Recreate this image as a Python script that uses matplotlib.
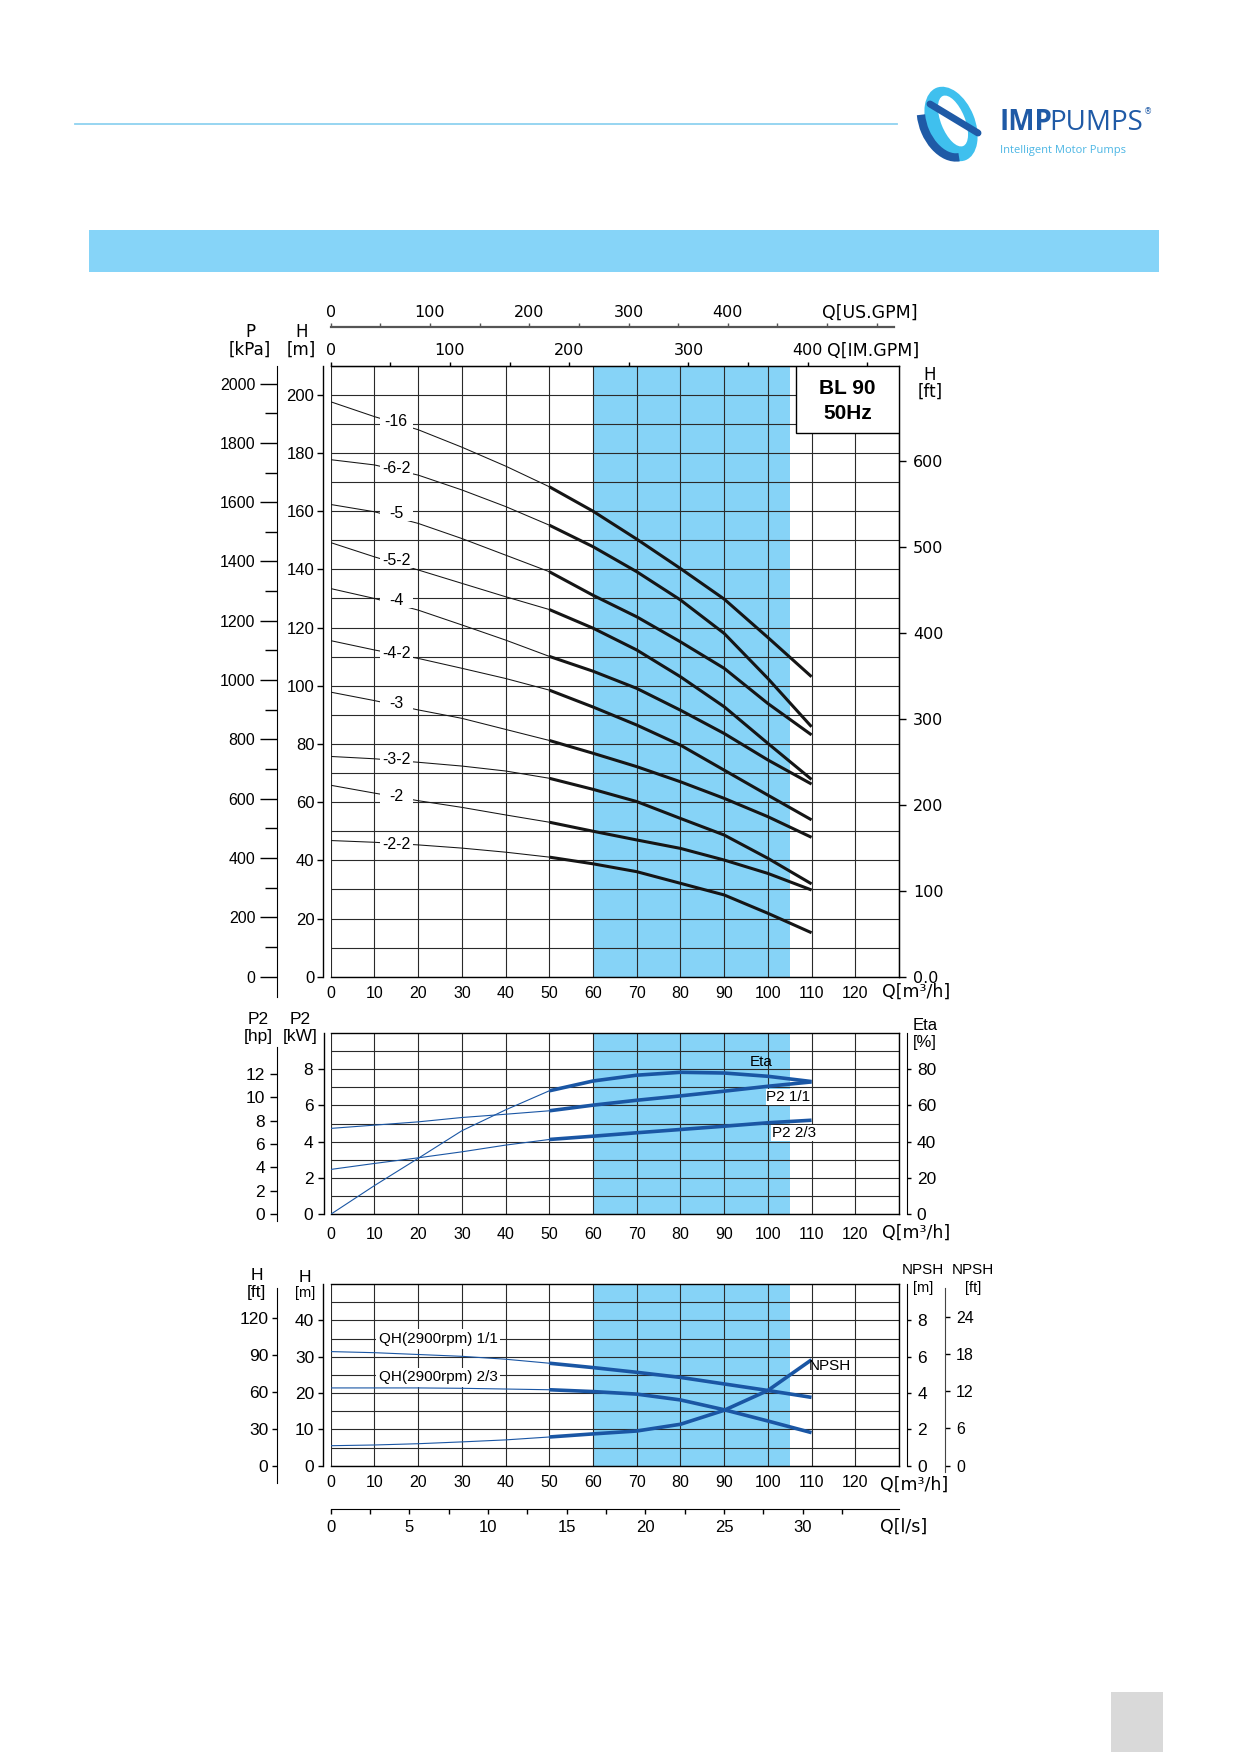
import matplotlib
matplotlib.use('Agg')
import matplotlib.pyplot as plt
from matplotlib.patches import Rectangle, Ellipse, Arc
from matplotlib.ticker import FuncFormatter

# ---------------- data ----------------
q_pts = [0, 10, 20, 30, 40, 50, 60, 70, 80, 90, 100, 110]
q_split = 5  # index where thin part ends / thick part starts (Q=50)

curve_names = ['-16', '-6-2', '-5', '-5-2', '-4', '-4-2', '-3', '-3-2', '-2', '-2-2']
h_16 = [197.6, 192.5, 188.0, 182.0, 175.5, 168.4, 160.0, 150.4, 140.3, 129.8, 116.6, 103.1]
h_6_2 = [177.7, 175.9, 172.4, 167.3, 161.6, 155.2, 147.8, 139.2, 129.5, 118.0, 102.5, 85.9]
h_5 = [162.3, 159.8, 155.8, 150.6, 144.9, 139.2, 131.1, 123.7, 115.1, 106.0, 93.9, 83.1]
h_5_2 = [149.2, 144.3, 139.8, 135.2, 130.6, 126.2, 119.8, 112.3, 103.1, 92.8, 80.2, 67.8]
h_4 = [133.4, 130.0, 126.0, 120.9, 115.7, 110.1, 105.0, 99.1, 91.6, 83.6, 74.5, 66.2]
h_4_2 = [115.5, 112.3, 109.4, 106.0, 102.5, 98.5, 92.7, 86.5, 79.6, 71.0, 62.4, 53.9]
h_3 = [97.8, 94.9, 91.7, 88.8, 85.0, 81.2, 76.8, 72.2, 67.0, 61.3, 55.0, 47.9]
h_3_2 = [75.7, 74.9, 73.7, 72.4, 70.7, 68.2, 64.4, 60.2, 54.4, 48.7, 40.7, 31.9]
h_2 = [65.8, 63.1, 60.5, 58.2, 55.6, 53.1, 50.0, 47.0, 44.1, 40.1, 35.5, 29.8]
h_2_2 = [46.8, 46.2, 45.3, 44.2, 42.8, 41.1, 38.8, 36.1, 32.1, 28.1, 21.8, 15.1]
head_curves = [h_16, h_6_2, h_5, h_5_2, h_4, h_4_2, h_3, h_3_2, h_2, h_2_2]
label_q = 15
label_h = [190.7, 174.7, 159.1, 143.2, 129.2, 111.1, 94.0, 74.5, 61.9, 45.6]

eta_pct = [0, 15.8, 30.8, 46.0, 57.5, 68.0, 73.4, 76.6, 78.2, 77.8, 76.0, 73.1]
p2_full = [4.73, 4.91, 5.09, 5.33, 5.51, 5.70, 6.01, 6.28, 6.52, 6.78, 7.05, 7.29]
p2_23 = [2.47, 2.80, 3.11, 3.44, 3.81, 4.12, 4.30, 4.49, 4.67, 4.85, 5.04, 5.18]

qh_full = [31.4, 31.1, 30.6, 30.1, 29.3, 28.2, 27.0, 25.7, 24.3, 22.5, 20.7, 18.8]
qh_23 = [21.4, 21.4, 21.4, 21.3, 21.1, 20.9, 20.4, 19.7, 18.1, 15.4, 12.3, 9.1]
npsh_m = [1.10, 1.14, 1.21, 1.31, 1.42, 1.58, 1.75, 1.91, 2.28, 3.05, 4.14, 5.83]

band = (60, 105)
q_ticks = list(range(0, 131, 10))
us_major = [0, 100, 200, 300, 400]
us_minor = [50, 150, 250, 350, 450, 500, 550]
im_major = [0, 100, 200, 300, 400]
im_minor = [50, 150, 250, 350, 450]
ls_major = [0, 5, 10, 15, 20, 25, 30]
ls_minor = [2.5, 7.5, 12.5, 17.5, 22.5, 27.5, 32.5]

# ---------------- styling ----------------
W, H = 1239, 1752
ARIAL = 'Liberation Sans'
VERD = 'DejaVu Sans'
BAND = '#86d3f7'
BLUE = '#1a56a4'
GRID = '#2a2a2a'
LOGO_DARK = '#1f5aa6'

fig = plt.figure(figsize=(W / 100, H / 100), dpi=100)


def fx(x):
    return x / W


def fy(y):
    return 1 - y / H


def T(x, y, s, **kw):
    ha = kw.pop('ha', 'center')
    va = kw.pop('va', 'center')
    return fig.text(fx(x), fy(y), s, ha=ha, va=va, **kw)


def axes_px(l, r, t, b):
    return fig.add_axes([fx(l), fy(b), (r - l) / W, (b - t) / H])


# ---------------- background / header ----------------
bg = fig.add_axes([0, 0, 1, 1], zorder=-5)
bg.set_xlim(0, W)
bg.set_ylim(H, 0)
bg.axis('off')
bg.plot([75, 897], [124, 124], color='#8fd2f0', lw=1.3)
bg.add_patch(Rectangle((89, 230), 1070, 42, color='#86d4f8', lw=0))
bg.add_patch(Rectangle((1111, 1692), 52, 60, color='#d9d9d9', lw=0))
# logo emblem
bg.add_patch(Ellipse((951, 124), 48, 78, angle=-22, color='#3fc0ee', lw=0))
bg.add_patch(Ellipse((953, 121), 24, 54, angle=-22, color='white', lw=0))
bg.add_patch(Arc((948, 121), 50, 76, angle=-22, theta1=95, theta2=215,
                 color=LOGO_DARK, lw=6))
bg.plot([930, 978], [104, 133], color=LOGO_DARK, lw=5, solid_capstyle='round')
bg.add_patch(Ellipse((948, 124), 8, 16, angle=-30, color='white', lw=0))

renderer = fig.canvas.get_renderer()
t_imp = T(1000, 130, 'IMP', ha='left', va='baseline', fontsize=20, fontweight='bold',
          color=LOGO_DARK, family='Open Sans')
bb = t_imp.get_window_extent(renderer)
x_pumps = bb.x1 - 4
t_p = fig.text(x_pumps / W, fy(130), 'PUMPS', ha='left', va='baseline', fontsize=20,
               color=LOGO_DARK, family='Open Sans')
bb2 = t_p.get_window_extent(renderer)
fig.text((bb2.x1 + 1) / W, fy(112), '®', ha='left', va='center', fontsize=6,
         color=LOGO_DARK, family=VERD)
T(1000, 150, 'Intelligent Motor Pumps', ha='left', fontsize=8, color='#4cb6e4',
  family='Open Sans')


def base_axes(ax, ymax, ymaj, ymin):
    ax.set_xlim(0, 130)
    ax.set_ylim(0, ymax)
    ax.axvspan(band[0], band[1], color=BAND, lw=0)
    ax.set_axisbelow('line')
    ax.set_xticks(q_ticks)
    ax.set_yticks(ymaj)
    ax.set_yticks(ymin, minor=True)
    ax.grid(True, which='both', color=GRID, lw=0.8)
    ax.xaxis.set_major_formatter(FuncFormatter(lambda v, p: '' if v > 125 else f'{v:.0f}'))
    ax.tick_params(axis='x', length=0, labelsize=11.5, labelfontfamily=ARIAL)
    ax.tick_params(axis='y', which='minor', length=0)
    ax.tick_params(axis='y', which='major', length=4.5, width=1, pad=1.8,
                   labelsize=12, labelfontfamily=ARIAL)
    for s in ax.spines.values():
        s.set_linewidth(1)
        s.set_color('black')


def two_part(ax, ys, color, lw_thin, lw_thick):
    ax.plot(q_pts[:q_split + 1], ys[:q_split + 1], color=color, lw=lw_thin, zorder=3)
    ax.plot(q_pts[q_split:], ys[q_split:], color=color, lw=lw_thick, zorder=3,
            solid_capstyle='butt', solid_joinstyle='round')


# ---------------- main chart ----------------
ax = axes_px(330.7, 899, 365.7, 976.7)
base_axes(ax, 210, list(range(0, 201, 20)), list(range(10, 211, 20)))
ax.tick_params(axis='x', pad=6.5)
ax.spines['left'].set_position(('outward', 5.5))
for name, ys, ly in zip(curve_names, head_curves, label_h):
    two_part(ax, ys, '#151515', 0.75, 2.2)
    ax.add_patch(Rectangle((label_q - 3.8, ly - 2.6), 7.6, 5.2, color='white', lw=0, zorder=4))
    ax.text(label_q, ly, name, ha='center', va='center', fontsize=11.5, family=ARIAL, zorder=5)

ax.add_patch(Rectangle((0.818, 0.89), 0.182, 0.11, transform=ax.transAxes, fc='white',
                       ec='black', lw=1, zorder=4))
ax.text(0.909, 0.963, 'BL 90', transform=ax.transAxes, ha='center', va='center',
        fontsize=15, fontweight='bold', family=ARIAL, zorder=5)
ax.text(0.909, 0.921, '50Hz', transform=ax.transAxes, ha='center', va='center',
        fontsize=15, fontweight='bold', family=ARIAL, zorder=5)

secP = ax.secondary_yaxis(-0.0945, functions=(lambda h: h * 9.81, lambda p: p / 9.81))
secP.set_yticks(list(range(0, 2001, 200)))
secP.set_yticks(list(range(100, 2000, 200)), minor=True)
secP.tick_params(which='major', length=12, width=1, pad=3.6, labelsize=11.5,
                 labelfontfamily=ARIAL)
secP.tick_params(which='minor', length=8.5, width=1)
secP.spines['left'].set_bounds(-68, 2060)

secF = ax.secondary_yaxis('right', functions=(lambda h: h * 3.385, lambda f: f / 3.385))
secF.set_yticks(list(range(0, 601, 100)))
secF.yaxis.set_major_formatter(FuncFormatter(lambda v, p: '0.0' if abs(v) < 1e-6 else f'{v:.0f}'))
secF.tick_params(length=5, width=1, pad=5, labelsize=11.5, labelfontfamily=VERD)

secIM = ax.secondary_xaxis('top', functions=(lambda q: q / 0.2728, lambda g: g * 0.2728))
secIM.set_xticks(im_major)
secIM.set_xticks(im_minor, minor=True)
secIM.tick_params(which='both', length=3, width=1, pad=2.5, labelsize=11.5,
                  labelfontfamily=VERD)

secUS = ax.secondary_xaxis(1.0633, functions=(lambda q: q / 0.2271, lambda g: g * 0.2271))
secUS.set_xticks(us_major)
secUS.set_xticks(us_minor, minor=True)
secUS.tick_params(which='both', length=3, width=1, pad=2, labelsize=11.5,
                  labelfontfamily=VERD, color='#555555')
secUS.spines['top'].set_color('#555555')
secUS.spines['top'].set_linewidth(1.6)
secUS.spines['top'].set_bounds(0, 567)

T(250, 331.7, 'P', fontsize=12, family=VERD)
T(250, 350, '[kPa]', fontsize=12, family=VERD)
T(301.7, 331.7, 'H', fontsize=12, family=VERD)
T(301.7, 350, '[m]', fontsize=12, family=VERD)
T(930, 375, 'H', fontsize=12, family=VERD)
T(930, 391.7, '[ft]', fontsize=12, family=VERD)
T(822, 313, 'Q[US.GPM]', ha='left', fontsize=12.5, family=VERD)
T(827, 351, 'Q[IM.GPM]', ha='left', fontsize=12.5, family=VERD)
T(882, 992, 'Q[m³/h]', ha='left', fontsize=12.5, family=VERD)

# ---------------- middle chart ----------------
ax2 = axes_px(330.7, 899, 1032.7, 1214.3)
base_axes(ax2, 10, [0, 2, 4, 6, 8], [1, 3, 5, 7, 9])
ax2.tick_params(axis='x', pad=9, labelsize=11.5)
ax2.tick_params(axis='y', which='major', length=4.3, pad=3.6, labelsize=12.5)
ax2.spines['left'].set_position(('outward', 4.6))
eta_kw = [e / 10 for e in eta_pct]
two_part(ax2, eta_kw, BLUE, 0.8, 2.6)
two_part(ax2, p2_full, BLUE, 0.8, 2.6)
two_part(ax2, p2_23, BLUE, 0.8, 2.6)
ax2.text(98.4, 8.4, 'Eta', ha='center', va='center', fontsize=11, family=ARIAL, zorder=5)
ax2.text(104.7, 6.45, 'P2 1/1', ha='center', va='center', fontsize=11, family=ARIAL, zorder=5,
         bbox=dict(fc='white', ec='none', pad=0.6))
ax2.text(106.0, 4.48, 'P2 2/3', ha='center', va='center', fontsize=11, family=ARIAL, zorder=5,
         bbox=dict(fc='white', ec='none', pad=0.6))

secHP = ax2.secondary_yaxis(-0.095, functions=(lambda k: k * 1.55, lambda h: h / 1.55))
secHP.set_yticks([0, 2, 4, 6, 8, 10, 12])
secHP.tick_params(length=5.3, width=1, pad=3, labelsize=12.5, labelfontfamily=ARIAL)
secHP.spines['left'].set_bounds(-0.6, 14.3)

secEta = ax2.secondary_yaxis(1.0135, functions=(lambda k: k * 10, lambda e: e / 10))
secEta.set_yticks([0, 20, 40, 60, 80])
secEta.tick_params(length=3, width=1, pad=4.3, labelsize=12.5, labelfontfamily=ARIAL)

T(258.3, 1019.3, 'P2', fontsize=12.5, family=ARIAL)
T(258.3, 1036, '[hp]', fontsize=12.5, family=ARIAL)
T(300, 1019.3, 'P2', fontsize=12.5, family=ARIAL)
T(300, 1036, '[kW]', fontsize=12.5, family=ARIAL)
T(925, 1025, 'Eta', fontsize=12, family=ARIAL)
T(925, 1043, '[%]', fontsize=12, family=ARIAL)
T(882, 1233, 'Q[m³/h]', ha='left', fontsize=12.5, family=VERD)

# ---------------- bottom chart ----------------
ax3 = axes_px(330.7, 899, 1284, 1465.7)
base_axes(ax3, 50, [0, 10, 20, 30, 40], [5, 15, 25, 35, 45])
ax3.tick_params(axis='x', pad=6.8, labelsize=11.5)
ax3.tick_params(axis='y', which='major', length=3.6, pad=2.7, labelsize=12.5)
ax3.spines['left'].set_position(('outward', 5.5))
two_part(ax3, qh_full, BLUE, 0.8, 2.6)
two_part(ax3, qh_23, BLUE, 0.8, 2.6)
two_part(ax3, [n * 5 for n in npsh_m], BLUE, 0.8, 2.6)
ax3.text(11.0, 34.9, 'QH(2900rpm) 1/1', ha='left', va='center', fontsize=11, family=ARIAL,
         zorder=5, bbox=dict(fc='white', ec='none', pad=2))
ax3.text(11.0, 24.3, 'QH(2900rpm) 2/3', ha='left', va='center', fontsize=11, family=ARIAL,
         zorder=5, bbox=dict(fc='white', ec='none', pad=2))
ax3.text(109.4, 27.3, 'NPSH', ha='left', va='center', fontsize=11, family=ARIAL, zorder=5)

secHF = ax3.secondary_yaxis(-0.0943, functions=(lambda h: h * 2.95, lambda f: f / 2.95))
secHF.set_yticks([0, 30, 60, 90, 120])
secHF.tick_params(length=3.6, width=1, pad=2.7, labelsize=12.5, labelfontfamily=ARIAL)
secHF.spines['left'].set_bounds(-14.3, 144)

secNM = ax3.secondary_yaxis(1.0135, functions=(lambda h: h / 5, lambda n: n * 5))
secNM.set_yticks([0, 2, 4, 6, 8])
secNM.tick_params(length=3, width=1, pad=4.7, labelsize=12.5, labelfontfamily=ARIAL)

secNF = ax3.secondary_yaxis(1.081, functions=(lambda h: h / 5 * 2.93, lambda f: f / 2.93 * 5))
secNF.set_yticks([0, 6, 12, 18, 24])
secNF.tick_params(length=3.6, width=1, pad=4.3, labelsize=11.5, labelfontfamily=ARIAL)
secNF.spines['right'].set_bounds(-1, 28.6)
secNF.spines['left'].set_bounds(-1, 28.6)
for s in secNF.spines.values():
    s.set_color('#444444')

secLS = ax3.secondary_xaxis(-0.238, functions=(lambda q: q / 3.6, lambda l: l * 3.6))
secLS.set_xticks(ls_major)
secLS.set_xticks(ls_minor, minor=True)
secLS.tick_params(which='both', length=3.6, width=1, pad=4.7, labelsize=12,
                  labelfontfamily=ARIAL)

T(256.8, 1275, 'H', fontsize=12.5, family=ARIAL)
T(256.8, 1293, '[ft]', fontsize=12.5, family=ARIAL)
T(304.7, 1277, 'H', fontsize=12.5, family=ARIAL)
T(304.7, 1293, '[m]', fontsize=10.5, family=ARIAL)
T(923, 1270, 'NPSH', fontsize=11, family=ARIAL)
T(923, 1288, '[m]', fontsize=10.5, family=ARIAL)
T(973, 1270, 'NPSH', fontsize=11, family=ARIAL)
T(973, 1288, '[ft]', fontsize=10.5, family=ARIAL)
T(880, 1485, 'Q[m³/h]', ha='left', fontsize=12.5, family=VERD)
T(880, 1527, 'Q[l/s]', ha='left', fontsize=12.5, family=VERD)

fig.savefig('out.png', dpi=100)
